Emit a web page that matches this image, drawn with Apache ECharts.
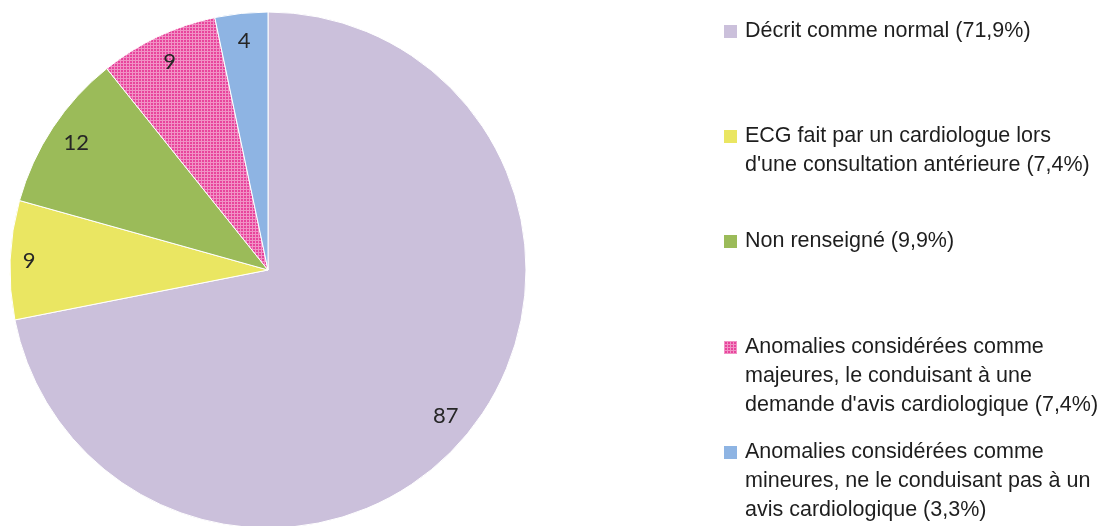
<!DOCTYPE html>
<html lang="fr">
  <head>
    <meta charset="UTF-8" />
    <title>ECG</title>
    <script src="https://cdn.jsdelivr.net/npm/echarts@6/dist/echarts.min.js"></script>
    <style>
      html, body { margin: 0; padding: 0; background: #fff; }
      #main { width: 1103px; height: 526px; }
    </style>
  </head>
  <body>
    <div id="main"></div>
    <script>
      // données
      const categories = [
        "Décrit comme normal",
        "ECG fait par un cardiologue lors\nd'une consultation antérieure",
        "Non renseigné",
        "Anomalies considérées comme\nmajeures, le conduisant à une\ndemande d'avis cardiologique",
        "Anomalies considérées comme\nmineures, ne le conduisant pas à un\navis cardiologique",
      ];
      const values = [87, 9, 12, 9, 4];
      const colors = ["#CBC0DB", "#EAE662", "#9BBB59", null, "#8EB4E3"];

      // motif quadrillé rose
      const hatch = document.createElement("canvas");
      hatch.width = 3;
      hatch.height = 3;
      const ctx = hatch.getContext("2d");
      ctx.fillStyle = "#E8449C";
      ctx.fillRect(0, 0, 3, 3);
      ctx.fillStyle = "#F192C5";
      ctx.fillRect(0, 0, 3, 1);
      ctx.fillRect(0, 0, 1, 3);
      colors[3] = { image: hatch, repeat: "repeat" };

      const total = values.reduce((a, b) => a + b, 0);
      const pct = (v) => ((v / total) * 100).toFixed(1).replace(".", ",") + "%";

      const pieData = categories.map((name, i) => ({
        name,
        value: values[i],
        itemStyle: { color: colors[i] },
      }));

      // position verticale de la première ligne de chaque entrée
      const firstLineY = [31.5, 136.5, 241.5, 347.5, 452.5];
      const lineH = 29;

      const legends = categories.map((name, i) => {
        const k = name.split("\n").length;
        const n = 2 * k - 1;
        return {
          orient: "vertical",
          left: 724,
          top: firstLineY[i] - (n * lineH) / 2,
          padding: 0,
          itemWidth: 13,
          itemHeight: 13,
          icon: "rect",
          selectedMode: false,
          itemStyle: { borderWidth: 0 },
          data: [name],
          formatter: () => "\n".repeat(k - 1) + name + " (" + pct(values[i]) + ")",
          textStyle: {
            fontFamily: "Liberation Sans",
            fontSize: 21.5,
            lineHeight: lineH,
            color: "#1e1e1e",
            padding: [0, 0, 0, 3],
          },
        };
      });

      const chart = echarts.init(document.getElementById("main"));
      chart.setOption({
        animation: false,
        legend: legends,
        series: [
          {
            type: "pie",
            center: [268, 270],
            radius: 258,
            startAngle: 90,
            clockwise: true,
            silent: true,
            data: pieData,
            itemStyle: { borderColor: "#fff", borderWidth: 1 },
            label: { show: false },
            labelLine: { show: false },
          },
          {
            // anneau transparent pour placer les étiquettes près du bord
            type: "pie",
            center: [268, 270],
            radius: [196, 258],
            startAngle: 90,
            clockwise: true,
            silent: true,
            data: categories.map((name, i) => ({
              name,
              value: values[i],
              label: i === 1 ? { padding: [0, 18, 0, 0] } : undefined,
            })),
            itemStyle: { color: "transparent", borderWidth: 0 },
            label: {
              show: true,
              position: "inside",
              formatter: "{c}",
              fontFamily: "Lato",
              fontSize: 22,
              color: "#262626",
              padding: [3, 0, 0, 0],
            },
            labelLine: { show: false },
            emphasis: { disabled: true },
          },
        ],
      });
    </script>
  </body>
</html>
